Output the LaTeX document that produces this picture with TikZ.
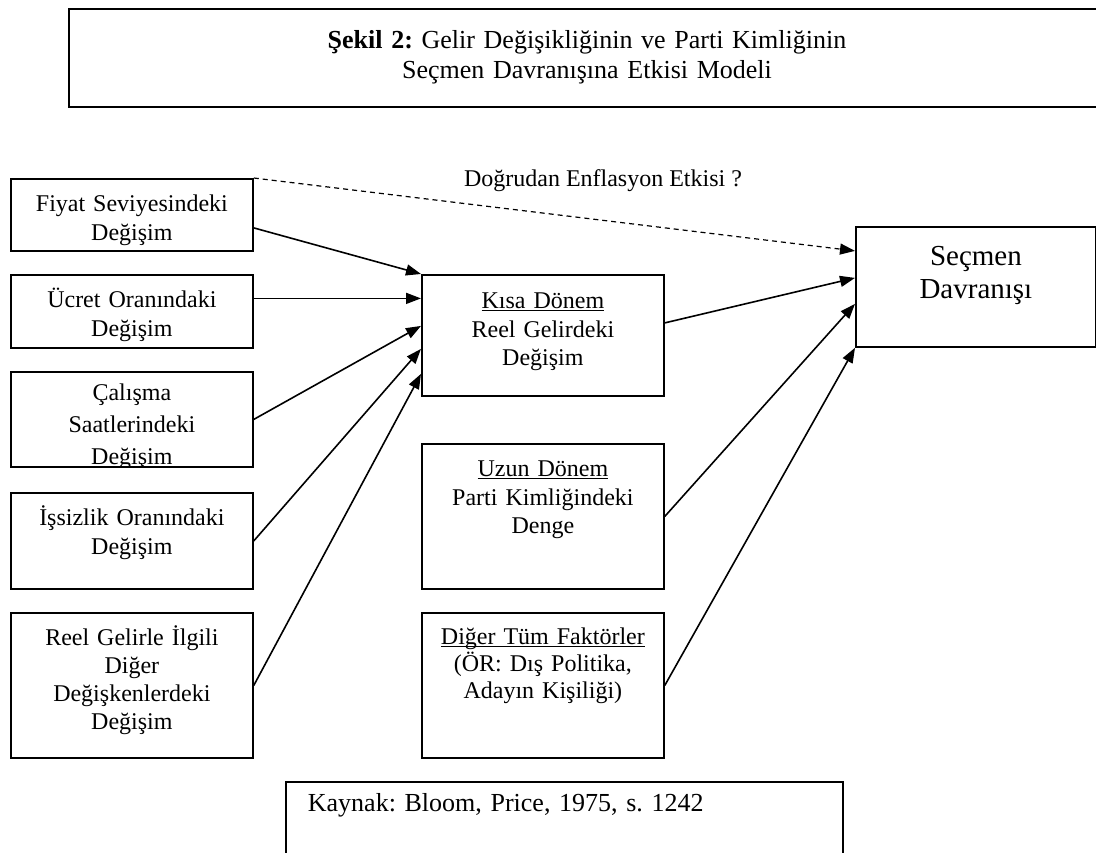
\documentclass[tikz,border=0pt]{standalone}
\usepackage{fontspec}
\setmainfont{Liberation Serif}
\frenchspacing
\usetikzlibrary{positioning, arrows.meta}

\newcommand{\altciz}[1]{\underline{\smash{#1}}}

\tikzset{
  kutu/.style={draw, line width=1.8pt, text width=230pt, inner xsep=6pt, inner ysep=0pt,
    align=center, anchor=north west, text height=33pt, font=\fontsize{24}{28.5}\selectfont},
  kutuyazi/.style={text width=230pt, inner sep=0pt, align=center, font=\fontsize{24}{32}\selectfont},
  ok/.style={line width=1.6pt, -{Triangle[length=15pt,width=11pt]}},
  kesik/.style={ok, line width=1.2pt, dash pattern=on 5pt off 4pt}
}

\begin{document}
\begin{tikzpicture}[x=1pt, y=-1pt]
\useasboundingbox (0,0) rectangle (1096,853);

% baslik
\node[draw, line width=2.5pt, minimum width=1036pt, text width=700pt, inner ysep=0pt,
  align=center, text height=39pt, text depth=59pt, font=\fontsize{26}{30}\selectfont]
  (baslik) at (587,8) [anchor=north]
  {\textbf{Şekil 2:} Gelir Değişikliğinin ve Parti Kimliğinin\\Seçmen Davranışına Etkisi Modeli};

% sol sutun
\node[kutu, text depth=39pt] (fiyat) at (10,178) {Fiyat Seviyesindeki\\Değişim};
\node[kutu, text depth=40pt] (ucret) at (10,274) {Ücret Oranındaki\\Değişim};
\node[kutu, text height=28pt, text depth=67pt,
  path picture={\node[kutuyazi, text height=28pt, anchor=north]
    at (path picture bounding box.north) {Çalışma\\Saatlerindeki\\Değişim};}] (calisma) at (10,371) {};
\node[kutu, text depth=63pt] (issizlik) at (10,492) {İşsizlik Oranındaki\\Değişim};
\node[kutu, text depth=112pt, font=\fontsize{24}{27.7}\selectfont] (reel) at (10,612)
  {Reel Gelirle İlgili\\Diğer\\Değişkenlerdeki\\Değişim};

% orta sutun
\node[kutu, text height=34pt, text depth=87pt] (kisa) at (421,274)
  {\altciz{Kısa Dönem}\\Reel Gelirdeki\\Değişim};
\node[kutu, text depth=112pt] (uzun) at (421,443)
  {\altciz{Uzun Dönem}\\Parti Kimliğindeki\\Denge};
\node[kutu, text height=32pt, text depth=113pt, font=\fontsize{24}{27}\selectfont] (diger) at (421,612)
  {\altciz{Diğer Tüm Faktörler}\\(ÖR: Dış Politika,\\Adayın Kişiliği)};

% sag
\node[kutu, text width=228pt, text height=39pt, text depth=81pt, font=\fontsize{29}{33}\selectfont]
  (secmen) at (855,226) {Seçmen\\Davranışı};

\node[font=\fontsize{24}{28}\selectfont] (etki) at (603,181) {Doğrudan Enflasyon Etkisi ?};

% kaynak
\node[kutu, text width=513pt, inner xsep=22pt, align=left, text height=30pt, text depth=42pt,
  font=\fontsize{26}{30}\selectfont] (kaynak) at (285,781) {Kaynak: Bloom, Price, 1975, s. 1242};

% oklar
\draw[ok] ([yshift=-13pt]fiyat.east) -- (kisa.north west);
\draw[ok] ([yshift=13pt]ucret.east) -- ([yshift=13pt]ucret.east -| kisa.west);
\draw[ok] (calisma.east) -- ([yshift=9.5pt]kisa.west);
\draw[ok] (issizlik.east) -- ([yshift=-13.5pt]kisa.west);
\draw[ok] (reel.east) -- ([yshift=-38.5pt]kisa.west);
\draw[kesik] (fiyat.north east) -- ([yshift=36pt]secmen.west);
\draw[ok] ([yshift=12.5pt]kisa.east) -- ([yshift=9pt]secmen.west);
\draw[ok] (uzun.east) -- ([yshift=-17pt]secmen.west);
\draw[ok] (diger.east) -- (secmen.south west);
\end{tikzpicture}
\end{document}
